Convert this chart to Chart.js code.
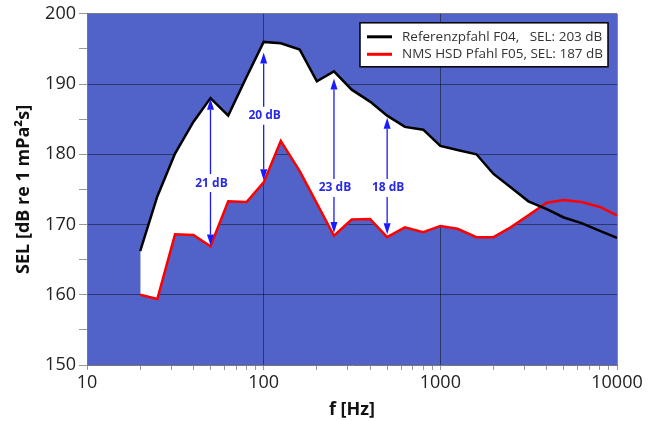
<!DOCTYPE html>
<html>
<head>
<meta charset="utf-8">
<script src="https://cdn.jsdelivr.net/npm/chart.js@4.4.1/dist/chart.umd.min.js"></script>
<style>
  html, body { margin: 0; padding: 0; background: #fff; }
  #wrap { width: 653px; height: 421px; position: relative; }
</style>
</head>
<body>
<div id="wrap"><canvas id="selChart"></canvas></div>
<script>
// Terzband-Mittenfrequenzen [Hz]
const freqs = [20, 25, 31.5, 40, 50, 63, 80, 100, 125, 160, 200, 250, 315, 400, 500,
    630, 800, 1000, 1250, 1600, 2000, 2500, 3150, 4000, 5000, 6300, 8000, 10000];

// Referenzpfahl F04
const selRef = [166.2, 174.0, 180.1, 184.6, 188.0, 185.5, 191.0, 196.0, 195.8, 194.9, 190.4, 191.8, 189.2, 187.5, 185.5,
    183.9, 183.5, 181.2, 180.6, 180.0, 177.2, 175.3, 173.3, 172.2, 171.0, 170.2, 169.1, 168.1];

// NMS HSD Pfahl F05
const selNms = [160.0, 159.4, 168.6, 168.5, 166.9, 173.3, 173.2, 176.0, 181.9, 177.6, 173.0, 168.4, 170.7, 170.8, 168.2,
    169.6, 168.9, 169.8, 169.4, 168.2, 168.2, 169.6, 171.3, 173.1, 173.5, 173.2, 172.5, 171.3];

const legendLabels = ["Referenzpfahl F04,   SEL: 203 dB", "NMS HSD Pfahl F05, SEL: 187 dB"];

// Differenzpfeile
const arrowFreq = [50, 100, 250, 500];
const arrowTop = [187.9, 194.5, 190.8, 185.2];
const arrowBottom = [167.0, 176.3, 168.8, 168.6];
const arrowLabelY = [175.9, 185.5, 175.2, 175.2];
const arrowLabels = ["21 dB", "20 dB", "23 dB", "18 dB"];

const xTicks = [10, 20, 30, 40, 50, 60, 70, 80, 90, 100, 200, 300, 400, 500, 600, 700, 800, 900,
    1000, 2000, 3000, 4000, 5000, 6000, 7000, 8000, 9000, 10000];

const PLOT_BLUE = "#5163C8";
const FONT = "'Open Sans', 'Noto Sans', sans-serif";

function isDecade(v) {
    const l = Math.log10(v);
    return Math.abs(l - Math.round(l)) < 1e-9;
}

const backgroundPlugin = {
    id: "plotBackground",
    beforeDraw(chart) {
        const { ctx, chartArea: a } = chart;
        ctx.save();
        ctx.fillStyle = PLOT_BLUE;
        ctx.fillRect(a.left, a.top, a.right - a.left, a.bottom - a.top);
        ctx.restore();
    }
};

const arrowPlugin = {
    id: "diffArrows",
    afterDatasetsDraw(chart) {
        const ctx = chart.ctx;
        const xs = chart.scales.x, ys = chart.scales.y;
        ctx.save();
        ctx.strokeStyle = "#1a1aff";
        ctx.fillStyle = "#1a1aff";
        ctx.lineWidth = 1.3;
        arrowFreq.forEach((f, i) => {
            const x = xs.getPixelForValue(f);
            const yT = ys.getPixelForValue(arrowTop[i]);
            const yB = ys.getPixelForValue(arrowBottom[i]);
            const yL = ys.getPixelForValue(arrowLabelY[i]);
            const head = 11, hw = 3.5;
            // nach oben
            ctx.beginPath();
            ctx.moveTo(x, yL - 9);
            ctx.lineTo(x, yT + head);
            ctx.stroke();
            ctx.beginPath();
            ctx.moveTo(x, yT);
            ctx.lineTo(x - hw, yT + head);
            ctx.lineTo(x + hw, yT + head);
            ctx.closePath();
            ctx.fill();
            // nach unten
            ctx.beginPath();
            ctx.moveTo(x, yL + 9);
            ctx.lineTo(x, yB - head);
            ctx.stroke();
            ctx.beginPath();
            ctx.moveTo(x, yB);
            ctx.lineTo(x - hw, yB - head);
            ctx.lineTo(x + hw, yB - head);
            ctx.closePath();
            ctx.fill();
            // Beschriftung
            ctx.font = "bold 12px " + FONT;
            ctx.fillStyle = "#2a2ae6";
            ctx.textAlign = "center";
            ctx.textBaseline = "middle";
            ctx.fillText(arrowLabels[i], x + 1, yL);
            ctx.fillStyle = "#1a1aff";
        });
        ctx.restore();
    }
};

const legendPlugin = {
    id: "boxLegend",
    afterDraw(chart) {
        const ctx = chart.ctx;
        const a = chart.chartArea;
        const bx = a.right - 257, by = a.top + 9, bw = 248, bh = 44;
        ctx.save();
        ctx.fillStyle = "#fff";
        ctx.fillRect(bx, by, bw, bh);
        ctx.strokeStyle = "#000";
        ctx.lineWidth = 1.5;
        ctx.strokeRect(bx, by, bw, bh);
        const colors = ["#000000", "#ff0000"];
        legendLabels.forEach((t, i) => {
            const y = by + 14 + i * 17.5;
            ctx.strokeStyle = colors[i];
            ctx.lineWidth = 3;
            ctx.beginPath();
            ctx.moveTo(bx + 7, y);
            ctx.lineTo(bx + 32, y);
            ctx.stroke();
            ctx.fillStyle = "#333";
            ctx.font = "13.5px " + FONT;
            ctx.textAlign = "left";
            ctx.textBaseline = "middle";
            ctx.fillText(t, bx + 42, y, bw - 47);
        });
        ctx.restore();
    }
};

const ctx = document.getElementById("selChart").getContext("2d");
const selChart = new Chart(ctx, {
    type: "line",
    data: {
        labels: freqs,
        datasets: [{
            label: legendLabels[0],
            data: freqs.map((f, i) => ({ x: f, y: selRef[i] })),
            borderColor: "#000",
            borderWidth: 2.5,
            pointRadius: 0,
            tension: 0,
            fill: { target: 1, above: "#ffffff", below: "rgba(0,0,0,0)" }
        }, {
            label: legendLabels[1],
            data: freqs.map((f, i) => ({ x: f, y: selNms[i] })),
            borderColor: "#ff0000",
            borderWidth: 2.5,
            pointRadius: 0,
            tension: 0,
            fill: false
        }]
    },
    options: {
        responsive: true,
        maintainAspectRatio: false,
        animation: false,
        layout: { padding: { left: 0, top: 13.5, right: 36, bottom: 0 } },
        plugins: {
            legend: { display: false },
            tooltip: { enabled: false },
            filler: { drawTime: "beforeDatasetsDraw" }
        },
        scales: {
            x: {
                type: "logarithmic",
                min: 10,
                max: 10000,
                z: 1,
                afterBuildTicks(scale) {
                    scale.ticks = xTicks.map(v => ({ value: v, major: isDecade(v) }));
                },
                afterFit(scale) { scale.height = 56; },
                ticks: {
                    autoSkip: false,
                    maxRotation: 0,
                    padding: 2,
                    color: "#222",
                    font: { family: FONT, size: 18 },
                    callback: v => (isDecade(v) ? String(v) : "")
                },
                grid: {
                    color: c => (isDecade(c.tick.value) && c.tick.value > 10 ? "rgba(0,0,0,0.45)" : "rgba(0,0,0,0)"),
                    tickColor: "#999",
                    tickLength: 5,
                    lineWidth: 1
                },
                border: { color: "#777", width: 1 },
                title: {
                    display: true,
                    text: "f [Hz]",
                    color: "#111",
                    font: { family: FONT, size: 18, weight: "bold" },
                    padding: { top: 4, bottom: 0 }
                }
            },
            y: {
                min: 150,
                max: 200,
                z: 1,
                afterFit(scale) { scale.width = 87; },
                ticks: {
                    stepSize: 5,
                    padding: 3,
                    color: "#222",
                    font: { family: FONT, size: 18 },
                    callback: v => (v % 10 === 0 ? String(v) : "")
                },
                grid: {
                    color: c => (c.tick.value % 10 === 0 && c.tick.value > 150 ? "rgba(0,0,0,0.45)" : "rgba(0,0,0,0)"),
                    tickColor: "#999",
                    tickLength: 8,
                    lineWidth: 1
                },
                border: { color: "#777", width: 1 },
                title: {
                    display: true,
                    text: "SEL [dB re 1 mPa²s]",
                    color: "#111",
                    font: { family: FONT, size: 18, weight: "bold" },
                    padding: { top: 13, bottom: 0 }
                }
            }
        }
    },
    plugins: [backgroundPlugin, arrowPlugin, legendPlugin]
});
</script>
</body>
</html>
